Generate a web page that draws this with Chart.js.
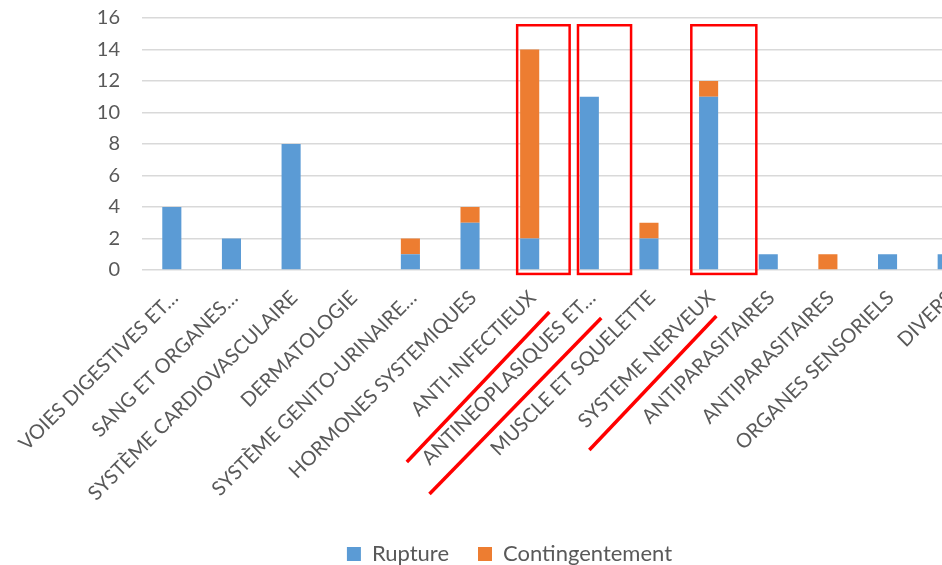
<!DOCTYPE html>
<html>
<head>
<meta charset="utf-8">
<script src="https://cdn.jsdelivr.net/npm/chart.js@4/dist/chart.umd.min.js"></script>
<style>
  html, body { margin: 0; padding: 0; background: #fff; overflow: hidden; }
  #wrap { position: relative; width: 1018px; height: 591px; margin-top: -16px; }
</style>
</head>
<body>
<div id="wrap"><canvas id="c"></canvas></div>
<script>
// Drug classes (ATC groups)
const categories = [
  'VOIES DIGESTIVES ET…',
  'SANG ET ORGANES…',
  'SYSTÈME CARDIOVASCULAIRE',
  'DERMATOLOGIE',
  'SYSTÈME GENITO-URINAIRE…',
  'HORMONES SYSTEMIQUES',
  'ANTI-INFECTIEUX',
  'ANTINEOPLASIQUES ET…',
  'MUSCLE ET SQUELETTE',
  'SYSTEME NERVEUX',
  'ANTIPARASITAIRES',
  'ANTIPARASITAIRES',
  'ORGANES SENSORIELS',
  'DIVERS'
];
const rupture         = [4, 2, 8, 0, 1, 3, 2, 11, 2, 11, 1, 0, 1, 1];
const contingentement = [0, 0, 0, 0, 1, 1, 12, 0, 1, 1, 0, 1, 0, 0];
const yTicks = [0, 2, 4, 6, 8, 10, 12, 14, 16];

// Highlight frames around some classes: category index, left/right offset in
// category units, top/bottom in value units.
const frames = [
  { index: 6, from: -0.21, to: 0.67, top: 15.54, bottom: -0.25 },
  { index: 7, from: -0.19, to: 0.70, top: 15.54, bottom: -0.25 },
  { index: 9, from: -0.29, to: 0.80, top: 15.54, bottom: -0.25 }
];
// Strokes under the axis labels: x in category units, y in px below the axis.
const strokes = [
  { x1: 3.94, y1: 192, x2: 6.33, y2: 42 },
  { x1: 4.32, y1: 224, x2: 7.20, y2: 48 },
  { x1: 7.00, y1: 180, x2: 9.13, y2: 46 }
];

const FONT = 'Lato';
const TEXT = '#595959';

const highlightPlugin = {
  id: 'highlights',
  afterDraw(chart) {
    const { ctx } = chart;
    const x = chart.scales.x, y = chart.scales.y;
    const step = x.getPixelForValue(1) - x.getPixelForValue(0);
    ctx.save();
    ctx.strokeStyle = '#FF0000';
    ctx.lineWidth = 2.5;
    frames.forEach(f => {
      const cx = x.getPixelForValue(f.index);
      const l = cx + f.from * step, r = cx + f.to * step;
      const t = y.getPixelForValue(f.top), b = y.getPixelForValue(f.bottom);
      ctx.strokeRect(l, t, r - l, b - t);
    });
    ctx.lineWidth = 3.5;
    const base = y.getPixelForValue(0);
    const x0 = x.getPixelForValue(0);
    strokes.forEach(s => {
      ctx.beginPath();
      ctx.moveTo(x0 + s.x1 * step, base + s.y1);
      ctx.lineTo(x0 + s.x2 * step, base + s.y2);
      ctx.stroke();
    });
    ctx.restore();
  }
};

new Chart(document.getElementById('c'), {
  type: 'bar',
  data: {
    labels: categories,
    datasets: [
      { label: 'Rupture', data: rupture, backgroundColor: '#5B9BD5' },
      { label: 'Contingentement', data: contingentement, backgroundColor: '#ED7D31' }
    ]
  },
  options: {
    responsive: true,
    maintainAspectRatio: false,
    devicePixelRatio: 1,
    animation: false,
    layout: { padding: { top: 8, left: 42, right: 41, bottom: 0 } },
    datasets: { bar: { barPercentage: 0.32, categoryPercentage: 1 } },
    plugins: {
      tooltip: { enabled: false },
      legend: {
        position: 'bottom',
        labels: {
          boxWidth: 14, boxHeight: 14, padding: 29,
          color: TEXT, font: { family: FONT, size: 22 }
        }
      }
    },
    scales: {
      x: {
        stacked: true,
        grid: { display: false, drawTicks: false },
        border: { display: false },
        ticks: {
          autoSkip: false, maxRotation: 45, minRotation: 45,
          padding: 16, labelOffset: 3,
          color: TEXT, font: { family: FONT, size: 20 }
        },
        afterFit(scale) {
          scale.height = 244;
          scale.paddingLeft = 0;
          scale.paddingRight = 0;
        }
      },
      y: {
        stacked: true,
        min: 0, max: 16,
        afterBuildTicks(scale) { scale.ticks = yTicks.map(v => ({ value: v })); },
        grid: { color: '#D9D9D9', lineWidth: 1.5, drawTicks: false },
        border: { display: false },
        ticks: { padding: 22, color: TEXT, font: { family: FONT, size: 20 } },
        afterFit(scale) { scale.width = 100; }
      }
    }
  },
  plugins: [highlightPlugin]
});
</script>
</body>
</html>
